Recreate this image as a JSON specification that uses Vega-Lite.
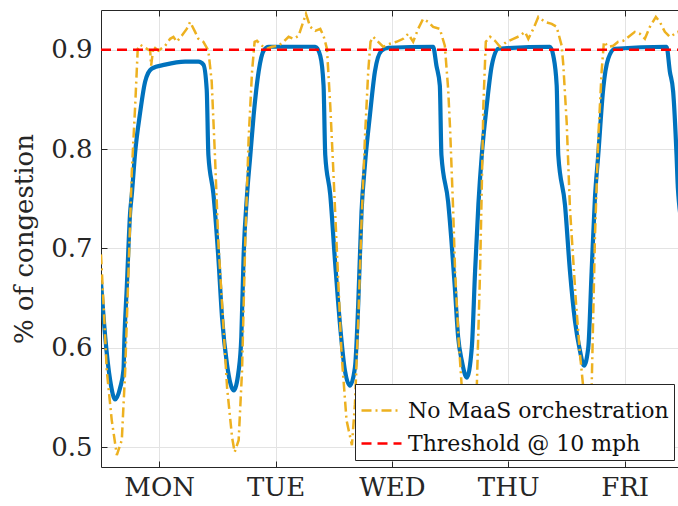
{
  "$schema": "https://vega.github.io/schema/vega-lite/v6.json",
  "width": 577,
  "height": 457,
  "autosize": {"type": "none"},
  "padding": {"left": 101, "top": 10, "right": 0, "bottom": 39},
  "background": "white",
  "config": {
    "view": {"stroke": null},
    "font": "DejaVu Serif",
    "axis": {
      "labelFont": "DejaVu Serif",
      "labelColor": "#262626",
      "titleFont": "DejaVu Serif",
      "titleColor": "#262626",
      "titleFontWeight": "normal",
      "domainColor": "#262626",
      "tickColor": "#262626",
      "gridColor": "#e3e3e3",
      "gridWidth": 1
    }
  },
  "datasets": {
    "maas": [
      {"t": 0, "v": 0.666}, {"t": 0.87, "v": 0.611}, {"t": 1.9, "v": 0.567}, {"t": 2.93, "v": 0.548}, {"t": 3.96, "v": 0.56}, {"t": 4.64, "v": 0.578}, {"t": 4.84, "v": 0.611}, {"t": 5.32, "v": 0.661}, {"t": 6.02, "v": 0.737}, {"t": 6.35, "v": 0.754}, {"t": 7.05, "v": 0.797}, {"t": 8.08, "v": 0.837}, {"t": 9.11, "v": 0.868}, {"t": 10.47, "v": 0.881}, {"t": 13.23, "v": 0.885}, {"t": 17.35, "v": 0.888}, {"t": 20.09, "v": 0.888}, {"t": 21.12, "v": 0.885}, {"t": 21.8, "v": 0.86}, {"t": 22.15, "v": 0.794}, {"t": 23.18, "v": 0.755}, {"t": 24.21, "v": 0.69}, {"t": 24.97, "v": 0.63}, {"t": 26.0, "v": 0.583}, {"t": 27.36, "v": 0.557}, {"t": 28.39, "v": 0.577}, {"t": 28.94, "v": 0.611}, {"t": 29.42, "v": 0.694}, {"t": 30.12, "v": 0.754}, {"t": 30.8, "v": 0.794}, {"t": 31.48, "v": 0.834}, {"t": 32.51, "v": 0.878}, {"t": 33.54, "v": 0.899}, {"t": 34.57, "v": 0.903},
      {"t": 44.19, "v": 0.903}, {"t": 45.22, "v": 0.894}, {"t": 45.9, "v": 0.864}, {"t": 46.25, "v": 0.794}, {"t": 47.28, "v": 0.754}, {"t": 48.31, "v": 0.684}, {"t": 49.28, "v": 0.624}, {"t": 50.31, "v": 0.577}, {"t": 51.34, "v": 0.562}, {"t": 52.37, "v": 0.58}, {"t": 53.05, "v": 0.644}, {"t": 53.73, "v": 0.737}, {"t": 54.43, "v": 0.784}, {"t": 55.46, "v": 0.834}, {"t": 56.49, "v": 0.878}, {"t": 57.85, "v": 0.899}, {"t": 59.23, "v": 0.902},
      {"t": 68.5, "v": 0.903}, {"t": 69.18, "v": 0.884}, {"t": 69.88, "v": 0.864}, {"t": 70.21, "v": 0.794}, {"t": 71.59, "v": 0.747}, {"t": 72.97, "v": 0.661}, {"t": 73.65, "v": 0.611}, {"t": 74.41, "v": 0.587}, {"t": 75.44, "v": 0.57}, {"t": 76.47, "v": 0.6}, {"t": 77.15, "v": 0.677}, {"t": 77.83, "v": 0.744}, {"t": 78.53, "v": 0.794}, {"t": 79.56, "v": 0.844}, {"t": 80.59, "v": 0.884}, {"t": 81.95, "v": 0.901},
      {"t": 92.6, "v": 0.903}, {"t": 93.28, "v": 0.894}, {"t": 93.98, "v": 0.864}, {"t": 94.31, "v": 0.794}, {"t": 95.69, "v": 0.744}, {"t": 96.72, "v": 0.677}, {"t": 97.75, "v": 0.627}, {"t": 98.78, "v": 0.597}, {"t": 99.61, "v": 0.582}, {"t": 100.49, "v": 0.6}, {"t": 101.19, "v": 0.677}, {"t": 101.87, "v": 0.751}, {"t": 102.55, "v": 0.794}, {"t": 103.58, "v": 0.861}, {"t": 104.61, "v": 0.891}, {"t": 106.0, "v": 0.901},
      {"t": 116.64, "v": 0.903}, {"t": 117.32, "v": 0.878}, {"t": 118.0, "v": 0.858}, {"t": 118.7, "v": 0.794}, {"t": 118.97, "v": 0.761}, {"t": 120, "v": 0.72}
    ],
    "nomaas": [
      {"t": 0, "v": 0.694, "s": "No MaaS orchestration"}, {"t": 0.52, "v": 0.644, "s": "No MaaS orchestration"}, {"t": 1.19, "v": 0.577, "s": "No MaaS orchestration"}, {"t": 2.22, "v": 0.527, "s": "No MaaS orchestration"}, {"t": 3.26, "v": 0.492, "s": "No MaaS orchestration"}, {"t": 4.29, "v": 0.507, "s": "No MaaS orchestration"}, {"t": 4.99, "v": 0.577, "s": "No MaaS orchestration"}, {"t": 5.67, "v": 0.677, "s": "No MaaS orchestration"}, {"t": 6.35, "v": 0.777, "s": "No MaaS orchestration"}, {"t": 7.05, "v": 0.844, "s": "No MaaS orchestration"}, {"t": 7.58, "v": 0.901, "s": "No MaaS orchestration"}, {"t": 8.08, "v": 0.905, "s": "No MaaS orchestration"}, {"t": 8.76, "v": 0.903, "s": "No MaaS orchestration"}, {"t": 10.14, "v": 0.899, "s": "No MaaS orchestration"}, {"t": 10.34, "v": 0.884, "s": "No MaaS orchestration"}, {"t": 10.82, "v": 0.903, "s": "No MaaS orchestration"}, {"t": 11.85, "v": 0.899, "s": "No MaaS orchestration"}, {"t": 13.23, "v": 0.904, "s": "No MaaS orchestration"}, {"t": 14.26, "v": 0.911, "s": "No MaaS orchestration"}, {"t": 14.94, "v": 0.913, "s": "No MaaS orchestration"}, {"t": 15.62, "v": 0.908, "s": "No MaaS orchestration"}, {"t": 16.65, "v": 0.914, "s": "No MaaS orchestration"}, {"t": 17.68, "v": 0.921, "s": "No MaaS orchestration"}, {"t": 18.38, "v": 0.928, "s": "No MaaS orchestration"}, {"t": 19.41, "v": 0.918, "s": "No MaaS orchestration"}, {"t": 20.09, "v": 0.911, "s": "No MaaS orchestration"}, {"t": 21.12, "v": 0.908, "s": "No MaaS orchestration"}, {"t": 22.15, "v": 0.899, "s": "No MaaS orchestration"}, {"t": 22.83, "v": 0.868, "s": "No MaaS orchestration"}, {"t": 23.53, "v": 0.79, "s": "No MaaS orchestration"}, {"t": 24.21, "v": 0.705, "s": "No MaaS orchestration"}, {"t": 24.97, "v": 0.644, "s": "No MaaS orchestration"}, {"t": 26.0, "v": 0.56, "s": "No MaaS orchestration"}, {"t": 27.03, "v": 0.51, "s": "No MaaS orchestration"}, {"t": 27.56, "v": 0.495, "s": "No MaaS orchestration"}, {"t": 28.39, "v": 0.507, "s": "No MaaS orchestration"}, {"t": 29.09, "v": 0.577, "s": "No MaaS orchestration"}, {"t": 29.77, "v": 0.711, "s": "No MaaS orchestration"}, {"t": 30.45, "v": 0.811, "s": "No MaaS orchestration"}, {"t": 31.15, "v": 0.878, "s": "No MaaS orchestration"}, {"t": 31.68, "v": 0.908, "s": "No MaaS orchestration"}, {"t": 32.17, "v": 0.909, "s": "No MaaS orchestration"}, {"t": 33.21, "v": 0.904, "s": "No MaaS orchestration"}, {"t": 34.24, "v": 0.901, "s": "No MaaS orchestration"}, {"t": 35.27, "v": 0.903, "s": "No MaaS orchestration"}, {"t": 36.63, "v": 0.904, "s": "No MaaS orchestration"}, {"t": 37.66, "v": 0.908, "s": "No MaaS orchestration"}, {"t": 38.69, "v": 0.913, "s": "No MaaS orchestration"}, {"t": 39.72, "v": 0.911, "s": "No MaaS orchestration"}, {"t": 40.75, "v": 0.914, "s": "No MaaS orchestration"}, {"t": 41.57, "v": 0.926, "s": "No MaaS orchestration"}, {"t": 42.27, "v": 0.936, "s": "No MaaS orchestration"}, {"t": 43.16, "v": 0.923, "s": "No MaaS orchestration"}, {"t": 44.19, "v": 0.919, "s": "No MaaS orchestration"}, {"t": 45.22, "v": 0.921, "s": "No MaaS orchestration"}, {"t": 45.9, "v": 0.914, "s": "No MaaS orchestration"}, {"t": 46.6, "v": 0.901, "s": "No MaaS orchestration"}, {"t": 47.28, "v": 0.844, "s": "No MaaS orchestration"}, {"t": 47.9, "v": 0.78, "s": "No MaaS orchestration"}, {"t": 48.72, "v": 0.69, "s": "No MaaS orchestration"}, {"t": 49.61, "v": 0.594, "s": "No MaaS orchestration"}, {"t": 50.64, "v": 0.527, "s": "No MaaS orchestration"}, {"t": 51.75, "v": 0.502, "s": "No MaaS orchestration"}, {"t": 52.37, "v": 0.543, "s": "No MaaS orchestration"}, {"t": 53.05, "v": 0.627, "s": "No MaaS orchestration"}, {"t": 53.73, "v": 0.727, "s": "No MaaS orchestration"}, {"t": 54.43, "v": 0.811, "s": "No MaaS orchestration"}, {"t": 55.11, "v": 0.878, "s": "No MaaS orchestration"}, {"t": 55.58, "v": 0.908, "s": "No MaaS orchestration"}, {"t": 56.14, "v": 0.913, "s": "No MaaS orchestration"}, {"t": 57.17, "v": 0.908, "s": "No MaaS orchestration"}, {"t": 58.2, "v": 0.903, "s": "No MaaS orchestration"}, {"t": 59.58, "v": 0.906, "s": "No MaaS orchestration"}, {"t": 60.94, "v": 0.908, "s": "No MaaS orchestration"}, {"t": 62.32, "v": 0.911, "s": "No MaaS orchestration"}, {"t": 63.35, "v": 0.916, "s": "No MaaS orchestration"}, {"t": 64.38, "v": 0.908, "s": "No MaaS orchestration"}, {"t": 65.41, "v": 0.921, "s": "No MaaS orchestration"}, {"t": 66.42, "v": 0.931, "s": "No MaaS orchestration"}, {"t": 67.47, "v": 0.928, "s": "No MaaS orchestration"}, {"t": 68.5, "v": 0.923, "s": "No MaaS orchestration"}, {"t": 69.88, "v": 0.921, "s": "No MaaS orchestration"}, {"t": 70.91, "v": 0.904, "s": "No MaaS orchestration"}, {"t": 71.59, "v": 0.861, "s": "No MaaS orchestration"}, {"t": 72.0, "v": 0.82, "s": "No MaaS orchestration"}, {"t": 72.62, "v": 0.74, "s": "No MaaS orchestration"}, {"t": 73.03, "v": 0.677, "s": "No MaaS orchestration"}, {"t": 73.71, "v": 0.611, "s": "No MaaS orchestration"}, {"t": 74.41, "v": 0.56, "s": "No MaaS orchestration"}, {"t": 75.3, "v": 0.505, "s": "No MaaS orchestration"}, {"t": 76.33, "v": 0.51, "s": "No MaaS orchestration"}, {"t": 77.5, "v": 0.56, "s": "No MaaS orchestration"}, {"t": 78.18, "v": 0.677, "s": "No MaaS orchestration"}, {"t": 78.53, "v": 0.761, "s": "No MaaS orchestration"}, {"t": 78.86, "v": 0.844, "s": "No MaaS orchestration"}, {"t": 79.36, "v": 0.908, "s": "No MaaS orchestration"}, {"t": 80.25, "v": 0.913, "s": "No MaaS orchestration"}, {"t": 81.27, "v": 0.909, "s": "No MaaS orchestration"}, {"t": 82.3, "v": 0.903, "s": "No MaaS orchestration"}, {"t": 83.68, "v": 0.908, "s": "No MaaS orchestration"}, {"t": 85.04, "v": 0.911, "s": "No MaaS orchestration"}, {"t": 86.42, "v": 0.914, "s": "No MaaS orchestration"}, {"t": 87.45, "v": 0.918, "s": "No MaaS orchestration"}, {"t": 88.13, "v": 0.911, "s": "No MaaS orchestration"}, {"t": 89.16, "v": 0.921, "s": "No MaaS orchestration"}, {"t": 90.19, "v": 0.933, "s": "No MaaS orchestration"}, {"t": 91.57, "v": 0.928, "s": "No MaaS orchestration"}, {"t": 92.95, "v": 0.926, "s": "No MaaS orchestration"}, {"t": 93.98, "v": 0.923, "s": "No MaaS orchestration"}, {"t": 95.01, "v": 0.904, "s": "No MaaS orchestration"}, {"t": 95.34, "v": 0.885, "s": "No MaaS orchestration"}, {"t": 96.04, "v": 0.827, "s": "No MaaS orchestration"}, {"t": 96.72, "v": 0.74, "s": "No MaaS orchestration"}, {"t": 97.98, "v": 0.644, "s": "No MaaS orchestration"}, {"t": 98.78, "v": 0.594, "s": "No MaaS orchestration"}, {"t": 99.46, "v": 0.56, "s": "No MaaS orchestration"}, {"t": 100.0, "v": 0.525, "s": "No MaaS orchestration"}, {"t": 100.62, "v": 0.525, "s": "No MaaS orchestration"}, {"t": 101.19, "v": 0.56, "s": "No MaaS orchestration"}, {"t": 101.87, "v": 0.711, "s": "No MaaS orchestration"}, {"t": 102.55, "v": 0.811, "s": "No MaaS orchestration"}, {"t": 103.25, "v": 0.878, "s": "No MaaS orchestration"}, {"t": 103.72, "v": 0.908, "s": "No MaaS orchestration"}, {"t": 104.61, "v": 0.903, "s": "No MaaS orchestration"}, {"t": 105.64, "v": 0.904, "s": "No MaaS orchestration"}, {"t": 106.67, "v": 0.908, "s": "No MaaS orchestration"}, {"t": 107.7, "v": 0.909, "s": "No MaaS orchestration"}, {"t": 109.08, "v": 0.914, "s": "No MaaS orchestration"}, {"t": 110.11, "v": 0.918, "s": "No MaaS orchestration"}, {"t": 111.14, "v": 0.916, "s": "No MaaS orchestration"}, {"t": 112.17, "v": 0.911, "s": "No MaaS orchestration"}, {"t": 113.2, "v": 0.923, "s": "No MaaS orchestration"}, {"t": 114.44, "v": 0.933, "s": "No MaaS orchestration"}, {"t": 115.26, "v": 0.928, "s": "No MaaS orchestration"}, {"t": 116.29, "v": 0.918, "s": "No MaaS orchestration"}, {"t": 117.32, "v": 0.913, "s": "No MaaS orchestration"}, {"t": 118.35, "v": 0.916, "s": "No MaaS orchestration"}, {"t": 118.97, "v": 0.918, "s": "No MaaS orchestration"}, {"t": 120, "v": 0.915, "s": "No MaaS orchestration"}
    ],
    "threshold": [
      {"t": 0, "v": 0.9, "s": "Threshold @ 10 mph"},
      {"t": 120, "v": 0.9, "s": "Threshold @ 10 mph"}
    ]
  },
  "resolve": {"axis": {"x": "independent"}},
  "layer": [
    {
      "data": {"name": "maas"},
      "mark": {"type": "line", "color": "#0072BD", "strokeWidth": 4.2, "interpolate": "monotone", "clip": true},
      "encoding": {
        "x": {
          "field": "t", "type": "quantitative",
          "scale": {"domain": [0, 119], "nice": false, "zero": false},
          "axis": {
            "orient": "bottom", "title": null,
            "values": [12, 36, 60, 84, 108],
            "labelExpr": "['MON','TUE','WED','THU','FRI'][floor(datum.value / 24)]",
            "labelFontSize": 26, "labelPadding": 13,
            "tickSize": -6, "grid": true
          }
        },
        "y": {
          "field": "v", "type": "quantitative",
          "scale": {"domain": [0.48, 0.94], "nice": false, "zero": false},
          "axis": {
            "title": "% of congestion", "titleFontSize": 26, "titlePadding": 13,
            "values": [0.5, 0.6, 0.7, 0.8, 0.9], "format": ".1f",
            "labelFontSize": 26, "labelPadding": 15,
            "tickSize": -6, "grid": true
          }
        }
      }
    },
    {
      "data": {"name": "nomaas"},
      "mark": {"type": "line", "strokeWidth": 2.5, "clip": true},
      "encoding": {
        "x": {"field": "t", "type": "quantitative", "axis": null},
        "y": {"field": "v", "type": "quantitative"},
        "color": {
          "field": "s", "type": "nominal",
          "scale": {"domain": ["No MaaS orchestration", "Threshold @ 10 mph"], "range": ["#EDB120", "#FF0000"]},
          "legend": {
            "title": null, "orient": "none", "legendX": 254, "legendY": 374,
            "fillColor": "white", "strokeColor": "#262626", "padding": 5,
            "labelFont": "DejaVu Serif", "labelFontSize": 22, "labelColor": "#111111", "labelLimit": 500,
            "symbolType": "stroke", "symbolSize": 1600, "symbolStrokeWidth": 2.6,
            "labelOffset": 5, "rowPadding": -18
          }
        },
        "strokeDash": {
          "field": "s", "type": "nominal",
          "scale": {"domain": ["No MaaS orchestration", "Threshold @ 10 mph"], "range": [[10, 4, 2, 4], [10, 6]]},
          "legend": {
            "title": null, "orient": "none", "legendX": 254, "legendY": 374,
            "fillColor": "white", "strokeColor": "#262626", "padding": 5,
            "labelFont": "DejaVu Serif", "labelFontSize": 22, "labelColor": "#111111", "labelLimit": 500,
            "symbolType": "stroke", "symbolSize": 1600, "symbolStrokeWidth": 2.6,
            "labelOffset": 5, "rowPadding": -18
          }
        }
      }
    },
    {
      "data": {"name": "threshold"},
      "mark": {"type": "line", "strokeWidth": 2.6, "clip": true},
      "encoding": {
        "x": {
          "field": "t", "type": "quantitative",
          "axis": {"orient": "top", "title": null, "labels": false, "values": [12, 36, 60, 84, 108], "tickSize": -6, "grid": false}
        },
        "y": {"field": "v", "type": "quantitative"},
        "color": {"field": "s", "type": "nominal"},
        "strokeDash": {"field": "s", "type": "nominal"}
      }
    }
  ]
}
